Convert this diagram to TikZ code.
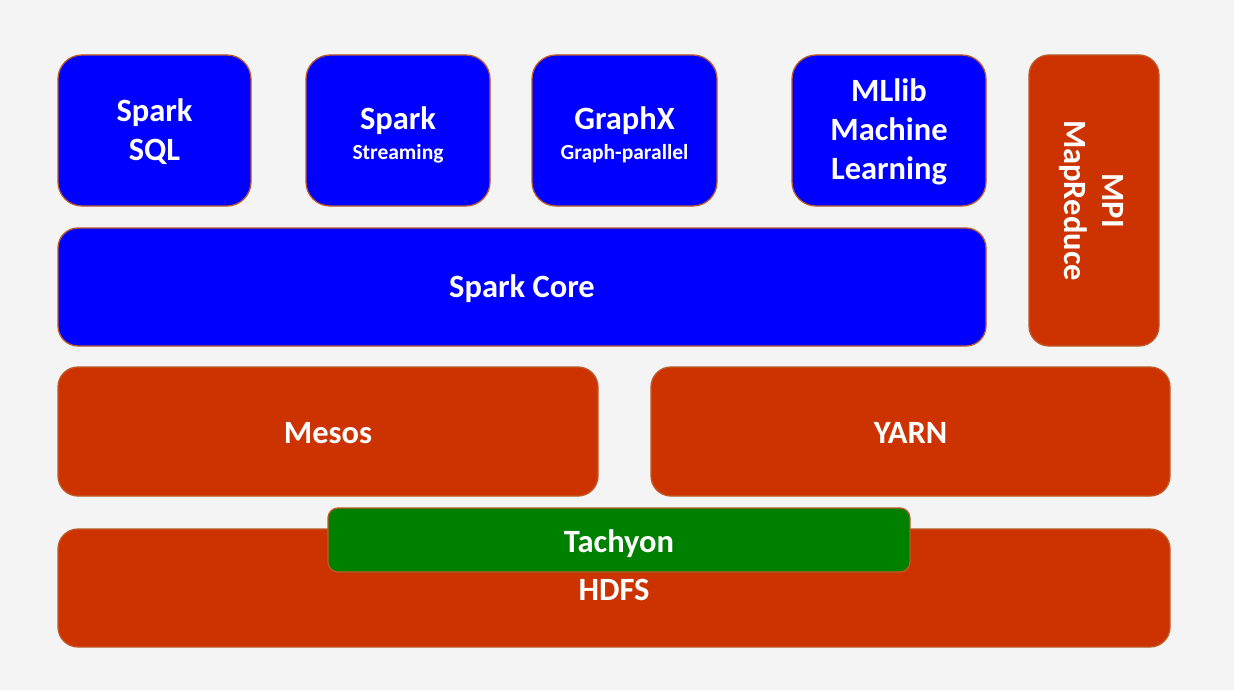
\documentclass[tikz,border=0pt]{standalone}
\usepackage{fontspec}
\setmainfont{Carlito}
\definecolor{sblue}{RGB}{0,0,255}
\definecolor{sred}{RGB}{204,51,0}
\definecolor{sgreen}{RGB}{0,128,0}
\definecolor{sedge}{RGB}{190,90,40}
\definecolor{sbg}{RGB}{244,244,244}
\begin{document}
\begin{tikzpicture}[x=1pt,y=-1pt,
  box/.style={draw=sedge, line width=1.3pt, inner sep=0pt},
  bluebox/.style={box, fill=sblue, rounded corners=24pt},
  redbox/.style={box, fill=sred, rounded corners=20pt},
  greenbox/.style={box, fill=sgreen, rounded corners=10pt},
  lbl/.style={inner sep=0pt, align=center, text=white,
    font=\bfseries\fontsize{32.5}{39}\selectfont}]
\fill[sbg] (0,0) rectangle (1234,690);
\useasboundingbox (0,0) rectangle (1234,690);
\newcommand\sub{\fontsize{21.5}{26}\selectfont}
% boxes
\node[bluebox, minimum width=193pt, minimum height=151pt] (sql) at (154.5,130.5) {};
\node[bluebox, minimum width=184pt, minimum height=151pt] (stream) at (398,130.5) {};
\node[bluebox, minimum width=185pt, minimum height=151pt] (graphx) at (624.5,130.5) {};
\node[bluebox, minimum width=194pt, minimum height=151pt] (mllib) at (889,130.5) {};
\node[redbox, minimum width=130pt, minimum height=291pt] (mpi) at (1094,200.5) {};
\node[bluebox, rounded corners=20pt, minimum width=928pt, minimum height=118pt] (core) at (522,287) {};
\node[redbox, minimum width=540pt, minimum height=129pt] (mesos) at (328,431.5) {};
\node[redbox, minimum width=519pt, minimum height=129pt] (yarn) at (910.5,431.5) {};
\node[redbox, minimum width=1112pt, minimum height=118pt] (hdfs) at (614,588) {};
\node[greenbox, minimum width=582pt, minimum height=64pt] (tachyon) at (619,540) {};
% labels
\node[lbl] (sqlt) at ([yshift=-1.5pt]sql.center) {Spark\\SQL};
\node[lbl] (streamt) at ([yshift=-4pt]stream.center) {Spark\\[-9pt]{\sub Streaming}};
\node[lbl] (graphxt) at ([yshift=-4pt]graphx.center) {GraphX\\[-9pt]{\sub Graph-parallel}};
\node[lbl] (mllibt) at ([yshift=-1.5pt]mllib.center) {MLlib\\Machine\\Learning};
\node[lbl, rotate=-90] (mpit) at ([xshift=-3pt]mpi.center) {MPI\\[-1pt]MapReduce};
\node[lbl] (coret) at ([yshift=-1.5pt]core.center) {Spark Core};
\node[lbl] (mesost) at ([yshift=-1.5pt]mesos.center) {Mesos};
\node[lbl] (yarnt) at ([yshift=-1.5pt]yarn.center) {YARN};
\node[lbl] (hdfst) at ([yshift=-2pt]hdfs.center) {HDFS};
\node[lbl, anchor=base] (tachyont) at ([yshift=-12pt]tachyon.center) {Tachyon};
\end{tikzpicture}
\end{document}
